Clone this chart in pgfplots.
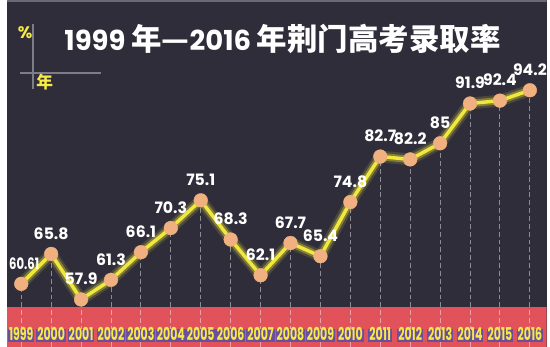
\documentclass[border=0pt]{standalone}
\usepackage{pgfplots}
\usepackage{pgfplotstable}
\usepackage{graphicx}
\pgfplotsset{compat=1.18}
\usepackage{fontspec}
\newfontfamily\pop{Poppins}
\newfontfamily\cjk{Noto Sans CJK SC}
\newcommand\Y[1]{\scalebox{0.62}[1]{\pop\bfseries\fontsize{18}{18}\selectfont #1}}
\definecolor{bg}{RGB}{47,45,58}
\definecolor{band}{RGB}{226,82,90}
\definecolor{purp}{RGB}{108,78,160}
\definecolor{yel}{RGB}{246,234,70}
\definecolor{lineyel}{RGB}{240,232,60}
\definecolor{peach}{RGB}{240,176,128}
\definecolor{axgray}{RGB}{125,125,136}
\definecolor{topgray}{RGB}{105,105,115}
\pgfplotstableread{
year rate label
1999 60.61 \kern6pt\scalebox{0.74}[1]{60.61}
2000 65.8 65.8
2001 57.9 57.9
2002 61.3 61.3
2003 66.1 66.1
2004 70.3 70.3
2005 75.1 75.1
2006 68.3 68.3
2007 62.1 62.1
2008 67.7 67.7
2009 65.4 65.4
2010 74.8 74.8
2011 82.7 82.7
2012 82.2 82.2
2013 85 85
2014 91.9 91.9
2015 92.4 92.4
2016 94.2 94.2
}\data
\begin{document}
\begin{tikzpicture}
\begin{axis}[
  scale only axis, width=550pt, height=353pt,
  xmin=1998.508, xmax=2016.558, ymin=49.72, ymax=109.86,
  axis on top=true,
  axis line style={draw=none}, tick style={draw=none}, major tick length=0pt,
  ytick=\empty,
  xtick={1999,2000,2001,2002,2003,2004,2005,2006,2007,2008,2009,2010,2011,2012,2013,2014,2015,2016},
  xticklabels={\Y{1999},\Y{2000},\Y{2001},\Y{2002},\Y{2003},\Y{2004},\Y{2005},\Y{2006},\Y{2007},\Y{2008},\Y{2009},\Y{2010},\Y{2011},\Y{2012},\Y{2013},\Y{2014},\Y{2015},\Y{2016}},
  xticklabel style={anchor=center, yshift=11.5pt, fill=purp, text=yel,
    inner xsep=1pt, inner ysep=0.5pt, text height=11.5pt, text depth=0.5pt},
  axis background/.style={fill=bg},
  clip=true,
]
\fill[band] (axis description cs:0,0) rectangle (axis description cs:1,0.1133);
\fill[topgray] (axis description cs:0,1) rectangle (axis description cs:1,0.9955);
\addplot[ycomb, draw=white, draw opacity=0.45, dash pattern=on 5pt off 3pt, line width=1pt, no marks] table[x=year,y=rate]{\data};
\addplot[no marks, line width=12pt, color=lineyel, opacity=0.15, line join=round] table[x=year,y=rate]{\data};
\addplot[no marks, line width=7.5pt, color=lineyel, opacity=0.35, line join=round] table[x=year,y=rate]{\data};
\addplot[no marks, line width=3.5pt, color=lineyel, line join=round] table[x=year,y=rate]{\data};
\addplot[color=peach, only marks, mark=*, mark size=7pt,
  nodes near coords, point meta=explicit symbolic,
  nodes near coords style={font=\pop\bfseries\fontsize{16}{16}\selectfont, text=white, anchor=center, yshift=21pt}]
  table[x=year,y=rate,meta=label]{\data};
\draw[axgray, line width=1.5pt] (axis description cs:0.0491,0.932) -- (axis description cs:0.0491,0.742);
\draw[axgray, line width=1.5pt] (axis description cs:0.0255,0.790) -- (axis description cs:0.1745,0.790);
\node[text=yel, font=\pop\bfseries\fontsize{17}{17}\selectfont] at (axis description cs:0.0345,0.9065) {\%};
\node[text=yel, font=\cjk\bfseries\fontsize{17}{17}\selectfont] at (axis description cs:0.0709,0.762) {年};
\node[text=white, inner sep=0pt] at (axis description cs:0.511,0.887)
  {{\pop\bfseries\fontsize{28}{28}\selectfont 1999 }{\cjk\bfseries\fontsize{31}{31}\selectfont 年—}{\pop\bfseries\fontsize{28}{28}\selectfont 2016 }{\cjk\bfseries\fontsize{31}{31}\selectfont 年荆门高考录取率}};
\end{axis}
\end{tikzpicture}
\end{document}
